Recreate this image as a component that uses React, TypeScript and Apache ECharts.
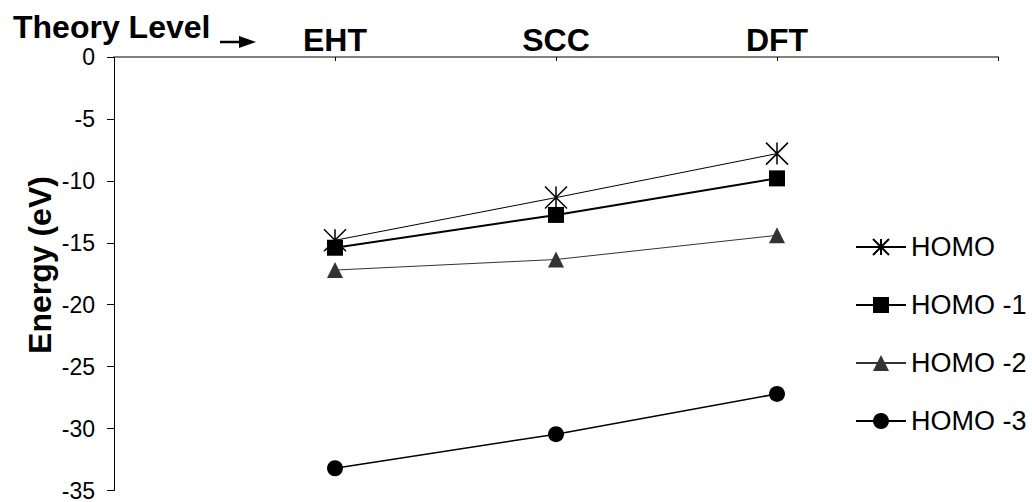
import React, { useEffect, useRef } from "react";
import * as echarts from "echarts";

const categories = ["EHT", "SCC", "DFT"];
const seriesNames = ["HOMO", "HOMO -1", "HOMO -2", "HOMO -3"];
const homo = [-14.8, -11.35, -7.8];
const homo1 = [-15.4, -12.75, -9.8];
const homo2 = [-17.2, -16.35, -14.4];
const homo3 = [-33.2, -30.45, -27.2];
const yTicks = { min: -35, max: 0, interval: 5 };

const pad = (arr: number[]) => [null, ...arr, null];

export default function App() {
  const ref = useRef<HTMLDivElement>(null);
  useEffect(() => {
    if (!ref.current) return;
    const chart = echarts.init(ref.current, undefined, { renderer: "svg" });
    const font = "'Liberation Sans', Arial, sans-serif";
    const asterisk = "path://M0,0L20,20M20,0L0,20M10,0L10,20";
    chart.setOption({
      animation: false,
      backgroundColor: "#fff",
      textStyle: { fontFamily: font },
      grid: { left: 114, right: 34, top: 57, bottom: 9, containLabel: false },
      xAxis: {
        type: "category",
        position: "top",
        boundaryGap: false,
        data: ["", ...categories, ""],
        axisLine: { lineStyle: { color: "#808080", width: 2 } },
        axisTick: { inside: true, length: 4, lineStyle: { color: "#000", width: 1 } },
        axisLabel: {
          fontSize: 32,
          fontWeight: "bold",
          color: "#000",
          fontFamily: font,
          margin: 1,
          lineHeight: 32,
        },
        splitLine: { show: false },
      },
      yAxis: {
        type: "value",
        min: yTicks.min,
        max: yTicks.max,
        interval: yTicks.interval,
        axisLine: { show: true, lineStyle: { color: "#000", width: 1 } },
        axisTick: { show: true, length: 7, lineStyle: { color: "#000" } },
        axisLabel: { fontSize: 23, color: "#000", fontFamily: font, margin: 19, lineHeight: 20 },
        splitLine: { show: false },
      },
      legend: {
        orient: "vertical",
        left: 850,
        top: 227,
        itemWidth: 50,
        itemHeight: 20,
        itemGap: 28,
        data: seriesNames,
        textStyle: { fontSize: 27, color: "#000", fontFamily: font, lineHeight: 30 },
      },
      series: [
        {
          name: seriesNames[0],
          type: "line",
          data: pad(homo),
          symbol: asterisk,
          symbolSize: 22,
          color: "#000",
          itemStyle: { color: "#000", borderColor: "#000", borderWidth: 1.5 },
          lineStyle: { color: "#000", width: 1 },
        },
        {
          name: seriesNames[1],
          type: "line",
          data: pad(homo1),
          symbol: "rect",
          symbolSize: 16,
          color: "#000",
          itemStyle: { color: "#000" },
          lineStyle: { color: "#000", width: 2 },
        },
        {
          name: seriesNames[2],
          type: "line",
          data: pad(homo2),
          symbol: "triangle",
          symbolSize: 16,
          color: "#333",
          itemStyle: { color: "#333" },
          lineStyle: { color: "#333", width: 1 },
        },
        {
          name: seriesNames[3],
          type: "line",
          data: pad(homo3),
          symbol: "circle",
          symbolSize: 16,
          color: "#000",
          itemStyle: { color: "#000" },
          lineStyle: { color: "#000", width: 1.5 },
        },
      ],
      graphic: [
        {
          type: "text",
          x: 13,
          y: 27,
          style: {
            text: "Theory Level",
            font: `bold 32px ${font}`,
            fill: "#000",
            align: "left",
            verticalAlign: "middle",
            lineHeight: 28,
          },
        },
        {
          type: "line",
          shape: { x1: 220, y1: 42, x2: 243, y2: 42 },
          style: { stroke: "#000", lineWidth: 2.5 },
        },
        {
          type: "polygon",
          shape: { points: [[239, 36], [256, 42], [239, 48]] },
          style: { fill: "#000" },
        },
        {
          type: "text",
          x: 40,
          y: 265,
          rotation: Math.PI / 2,
          style: {
            text: "Energy (eV)",
            font: `bold 32px ${font}`,
            fill: "#000",
            align: "center",
            verticalAlign: "middle",
          },
        },
      ],
    });
    return () => chart.dispose();
  }, []);
  return (
    <div
      ref={ref}
      style={{ position: "fixed", left: 0, top: 0, width: 1032, height: 502 }}
    />
  );
}
